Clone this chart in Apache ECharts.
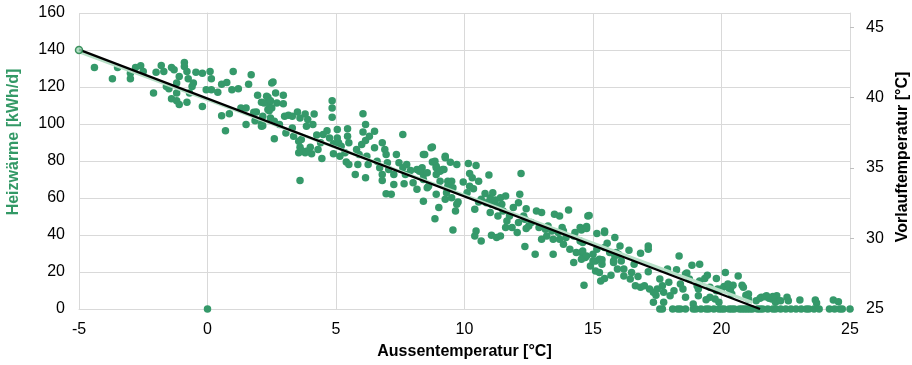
<!DOCTYPE html>
<html>
<head>
<meta charset="utf-8">
<script src="https://cdn.jsdelivr.net/npm/echarts@6/dist/echarts.min.js"></script>
<style>html,body{margin:0;padding:0;background:#fff}#c{width:912px;height:365px}</style>
</head>
<body>
<div id="c"></div>
<script>
// Axis definitions
const xTicks = [-5, 0, 5, 10, 15, 20, 25];
const leftTicks = [0, 20, 40, 60, 80, 100, 120, 140, 160];
const rightTicks = [25, 30, 35, 40, 45];

// Heizwärme [kWh/d] vs Aussentemperatur [°C]
const pointsCold = [[-4.4,130.5],[-3.7,124.5],[-3.5,130.5],[-3.0,127.5],[-3.0,124.5],[-2.8,130.5],[-2.6,131.5],[-2.5,128.4],[-2.1,116.8],[-2.0,128],[-1.8,131.6],[-1.7,128.4],[-1.6,120.3],[-1.5,119],[-1.4,130.5],[-1.3,129.3],[-0.9,133.2],[-0.9,131.1],[-1.1,125.7],[-0.8,128.4],[-1.2,122.1],[-0.75,124.5],[-0.55,122.1],[-0.6,120.3],[-1.2,116.8],[-1.4,113.7],[-1.2,112.6],[-1.1,110.5],[-0.8,111.7],[-0.7,116.8],[-0.45,128],[-0.2,127.5],[0.1,128.4],[0.15,124.5],[-0.05,118.5],[0.15,118.5],[-0.2,109.5],[0.4,117.2],[0.55,121.5],[0.75,122.4],[1.0,128.4],[0.95,118.5],[1.2,119],[0.55,104.5],[0.7,96.4],[0.85,105.6],[1.3,108.6],[1.5,108.6],[1.5,99.7],[1.7,126.6],[1.6,121.5],[1.95,115.5],[1.9,106.5],[1.85,101.8],[0,0]];
const pointsCool = [[2.1,111.7],[2.15,99.1],[2.3,115],[2.35,107.8],[2.5,122.1],[2.4,111.4],[2.6,92],[2.15,104.2],[2.55,122.7],[2.2,111.4],[2.35,114.4],[2.45,112.6],[2.65,116.8],[2.7,111.4],[2.95,115.5],[2.95,110.9],[2.5,108.6],[2.4,107.2],[1.8,106.4],[2.1,98.8],[2.1,100.1],[2.45,103.3],[2.6,101.5],[2.8,99.7],[3.0,104.2],[3.15,104.7],[3.3,104.2],[3.05,95.2],[3.3,97.9],[3.35,93.4],[3.5,106.5],[3.6,103.3],[3.8,105.4],[3.9,102.4],[3.85,98.8],[4.15,105.4],[4.1,99.7],[3.55,90.7],[3.65,91.6],[3.6,87.5],[3.8,84.4],[3.55,84.4],[4.0,87.5],[4.05,83.9],[4.25,94],[4.4,89.8],[4.3,86.2],[4.45,81.4],[4.5,94.3],[4.65,96.4],[4.85,112.6],[4.85,108.6],[4.85,103.7],[3.6,69.5],[4.75,92.5],[4.9,89.3],[4.9,83.9],[3.65,85.7],[3.85,85.3]];
const pointsMild = [[5.05,97],[5.05,92.5],[5.1,89.8],[5.2,88],[5.15,82.6],[5.35,84.4],[5.45,97.5],[5.45,93.4],[5.5,89.8],[5.4,79.5],[5.5,78.1],[5.75,72.7],[5.8,86.2],[5.9,83.5],[5.85,78.1],[6.05,105.6],[6.15,99.7],[6.05,95.7],[6.0,88.9],[6.15,91.1],[6.2,82.6],[6.25,78.1],[6.15,71],[6.3,93.4],[6.5,96.1],[6.5,87.1],[6.6,79.9],[6.7,76.3],[6.8,89.8],[6.9,86.2],[6.95,83.5],[6.8,72.7],[7.0,79],[6.8,69.5],[7.05,75.4],[7.25,72.7],[7.35,83.5],[7.25,67.3],[6.95,62.3],[7.15,62],[7.45,79],[7.6,94.3],[7.6,76.3],[7.7,72.7],[7.75,78.1],[7.9,74.9],[7.65,67.7],[8.0,68.3]];
const pointsMid = [[8.15,75.4],[8.35,76.3],[8.4,72.7],[8.45,83.5],[8.15,64.7],[8.4,58.3],[8.55,65.6],[8.7,87.1],[8.75,79.5],[8.9,77.2],[8.9,72.7],[9.25,82.6],[9.15,75.4],[9.05,69.1],[9.35,69.1],[9.3,62.9],[9.25,59.3],[8.75,87.6],[8.4,83.5],[8.85,79.9],[9.25,81.7],[9.45,79.3],[9.7,78.1],[10.15,78.7],[10.45,77.6],[8.25,74.5],[8.55,73.7],[8.9,76.3],[9.05,74.5],[9.2,75.4],[8.4,70],[8.6,66.4],[8.9,62],[9.0,54.8],[8.85,48.8],[9.35,66.4],[9.5,69.1],[9.5,60.2],[9.55,65.6],[9.65,53],[9.7,56.6],[9.55,42.7],[9.75,57.8],[9.95,68.6],[10.1,62.9],[10.2,73.3],[10.2,66.4],[10.3,71],[10.35,65],[10.4,53.9],[10.55,69.1],[10.55,57.8],[10.65,59.3],[10.45,42.2],[10.4,39.5],[10.65,36.8],[10.95,72.4],[10.8,62.5],[11.0,60.2],[10.85,57.5],[11.05,56.6],[11.0,52.1],[11.1,62.9],[11.2,58.9],[11.25,55.7],[11.05,39.9],[11.25,38.6],[11.4,39.5],[11.3,50.3],[11.4,60.2],[11.45,56.6],[11.5,53],[11.6,61.1],[11.65,47.6],[11.75,50.3],[11.6,44],[11.9,54.8],[11.85,44]];
const pointsWarm = [[12.05,41.3],[12.1,46.7],[12.1,57.5],[12.2,73.3],[12.15,62],[12.3,50.3],[12.4,54.2],[12.35,48.5],[12.5,44.9],[12.35,33.8],[12.4,43.5],[12.6,46.7],[12.75,29.6],[12.8,53],[12.9,44],[13.0,52.1],[13.0,37.7],[13.15,43.1],[13.2,39.5],[13.25,44.9],[13.4,42.2],[13.45,37.7],[13.45,29.6],[13.5,51.2],[13.7,50.3],[13.65,41.3],[13.7,37.7],[13.8,44],[13.85,42.2],[13.85,35],[14.05,53.5],[13.95,38.6],[14.1,32.3],[14.25,39.5],[14.3,41.3],[14.35,30.5],[14.25,25.1],[14.5,44],[14.55,30.5],[14.6,35.9],[14.75,44.6],[14.8,50.3],[14.7,27.9],[14.9,23.3],[14.85,50.6],[14.55,42.7],[14.75,43.5],[14.5,36.8],[14.6,31.4],[14.55,26.9],[14.75,28.7],[14.65,12.9]];
const pointsSpring = [[15.0,29.6],[15.15,32.3],[15.1,26],[15.25,26.9],[15.35,24.2],[15.45,41.3],[15.55,35.6],[15.65,30.5],[15.85,38.6],[15.9,30.5],[15.8,26],[16.05,34.1],[15.15,40.8],[15.45,42.2],[15.0,26],[15.1,20.6],[15.25,19.7],[15.35,26.6],[15.45,33.2],[15.3,15.2],[15.45,16.5],[15.85,28.7],[15.8,25.1],[15.7,18.3],[15.95,21.6],[16.0,29.5],[16.1,26],[16.2,21.6],[16.2,17.9],[16.4,31.8],[16.45,16.2],[16.6,24.2],[16.5,19.7],[16.65,12.6],[16.85,30.2],[16.75,17.6],[16.85,11.7],[17.15,34.1],[17.15,32.3],[17.15,20.1],[17.0,12.6],[17.2,10.8],[17.35,3.6],[17.45,7.5],[17.5,10.8],[17.6,16.2],[17.7,12.6],[17.75,9],[17.9,21.6],[17.95,14.4],[17.35,9],[17.75,3.6]];
const pointsSummer = [[18.0,7.2],[18.15,9.9],[18.25,21.2],[18.35,28.7],[18.4,13.5],[18.5,10.8],[18.6,6.3],[18.65,19.4],[18.75,16.2],[18.85,23.7],[18.9,2.7],[19.05,12.6],[19.1,7.2],[19.15,24.2],[19.15,15.2],[19.35,16.5],[19.45,18.3],[19.55,11.7],[19.8,16.5],[19.85,10.8],[19.9,3.6],[20.1,12.2],[20.15,19.7],[20.25,13.5],[20.35,10.8],[20.4,8.1],[20.65,17.9],[20.8,12.9],[20.85,11.7],[20.95,7.5],[21.05,5.4],[21.35,4.5],[21.55,6.3],[21.75,7.2],[21.95,5.4],[22.15,7.2],[22.1,3.6],[18.6,18.9],[19.1,10.8],[19.4,5],[19.55,6.3],[19.75,5.4],[19.8,9.9],[20.0,10.8],[20.3,11.1],[20.45,12.9],[21.05,8.1],[21.5,5.8],[21.7,6.6],[21.85,5.8],[22.0,6.8],[22.3,4.5],[22.55,6.3],[22.6,4.5],[23.05,4.8],[23.65,4.8],[23.7,3.2],[24.35,4.8],[24.55,3.9]];
const zeroDayTemps = [17.6,17.7,18.1,18.3,18.4,18.6,18.9,19.0,19.2,19.4,19.5,19.7,19.9,20.0,20.1,20.3,20.4,20.5,20.7,20.8,20.9,21.0,21.1,21.2,21.4,21.5,21.6,21.8,22.0,22.1,22.3,22.5,22.7,22.9,23.1,23.3,23.4,23.6,23.8,24.2,24.4,24.6,24.7,25.0];
const startPoint = [[-5, 140]];

// Vorlauftemperatur [°C] heating curve (right axis) and Heizwärme trend (left axis)
const vorlaufCurve = [[-5, 43.4], [21.5, 25]];
const heatTrend = [[-5, 139], [21.2, 3.5]];

const green = '#35996a';
const font = 'Liberation Sans, Arial, sans-serif';
const heatPoints = [].concat(pointsCold, pointsCool, pointsMild, pointsMid, pointsWarm, pointsSpring, pointsSummer, zeroDayTemps.map(t => [t, 0]));

const chart = echarts.init(document.getElementById('c'), null, {renderer: 'canvas'});
chart.setOption({
  animation: false,
  backgroundColor: '#fff',
  grid: {left: 79, right: 62, top: 13, bottom: 55, containLabel: false},
  xAxis: {
    type: 'value', min: xTicks[0], max: xTicks[xTicks.length - 1], interval: 5,
    name: 'Aussentemperatur [°C]', nameLocation: 'middle', nameGap: 35,
    nameTextStyle: {fontFamily: font, fontSize: 16, fontWeight: 'bold', color: '#000'},
    axisLine: {show: true, lineStyle: {color: '#d9d9d9'}},
    axisTick: {show: false},
    axisLabel: {fontFamily: font, fontSize: 16, color: '#000', margin: 13},
    splitLine: {show: true, lineStyle: {color: '#d9d9d9', width: 1}}
  },
  yAxis: [{
    type: 'value', min: leftTicks[0], max: leftTicks[leftTicks.length - 1], interval: 20, position: 'left',
    axisLine: {show: true, lineStyle: {color: '#d9d9d9'}},
    axisTick: {show: false},
    axisLabel: {fontFamily: font, fontSize: 16, color: '#000', margin: 14},
    splitLine: {show: true, lineStyle: {color: '#d9d9d9', width: 1}}
  }, {
    type: 'value', min: rightTicks[0], max: 46, interval: 5, position: 'right',
    axisLine: {show: true, lineStyle: {color: '#d9d9d9'}},
    axisTick: {show: true, length: 4, inside: false, lineStyle: {color: '#bfbfbf'}},
    axisLabel: {fontFamily: font, fontSize: 16, color: '#000', margin: 16, showMaxLabel: false},
    splitLine: {show: false}
  }],
  graphic: [{
    type: 'text', x: 14, y: 142, rotation: Math.PI / 2,
    style: {text: 'Heizwärme [kWh/d]', fill: '#339966', font: 'bold 16px ' + font, align: 'center', verticalAlign: 'middle'}
  }, {
    type: 'text', x: 903, y: 157, rotation: Math.PI / 2,
    style: {text: 'Vorlauftemperatur [°C]', fill: '#000', font: 'bold 16px ' + font, align: 'center', verticalAlign: 'middle'}
  }],
  series: [{
    name: 'Heizwärme', type: 'scatter', yAxisIndex: 0, data: heatPoints,
    symbol: 'circle', symbolSize: 7.5, itemStyle: {color: green, opacity: 1}, z: 2
  }, {
    name: 'Trend', type: 'line', yAxisIndex: 0, data: heatTrend, showSymbol: false,
    lineStyle: {color: '#b8e0c8', width: 3}, z: 3
  }, {
    name: 'Vorlauftemperatur', type: 'line', yAxisIndex: 1, data: vorlaufCurve, showSymbol: false,
    lineStyle: {color: '#000', width: 2.2}, z: 4
  }, {
    name: 'Start', type: 'scatter', yAxisIndex: 0, data: startPoint,
    symbol: 'circle', symbolSize: 7,
    itemStyle: {color: '#9fd6b5', borderColor: '#157a3f', borderWidth: 1.5}, z: 5
  }]
});
</script>
</body>
</html>
